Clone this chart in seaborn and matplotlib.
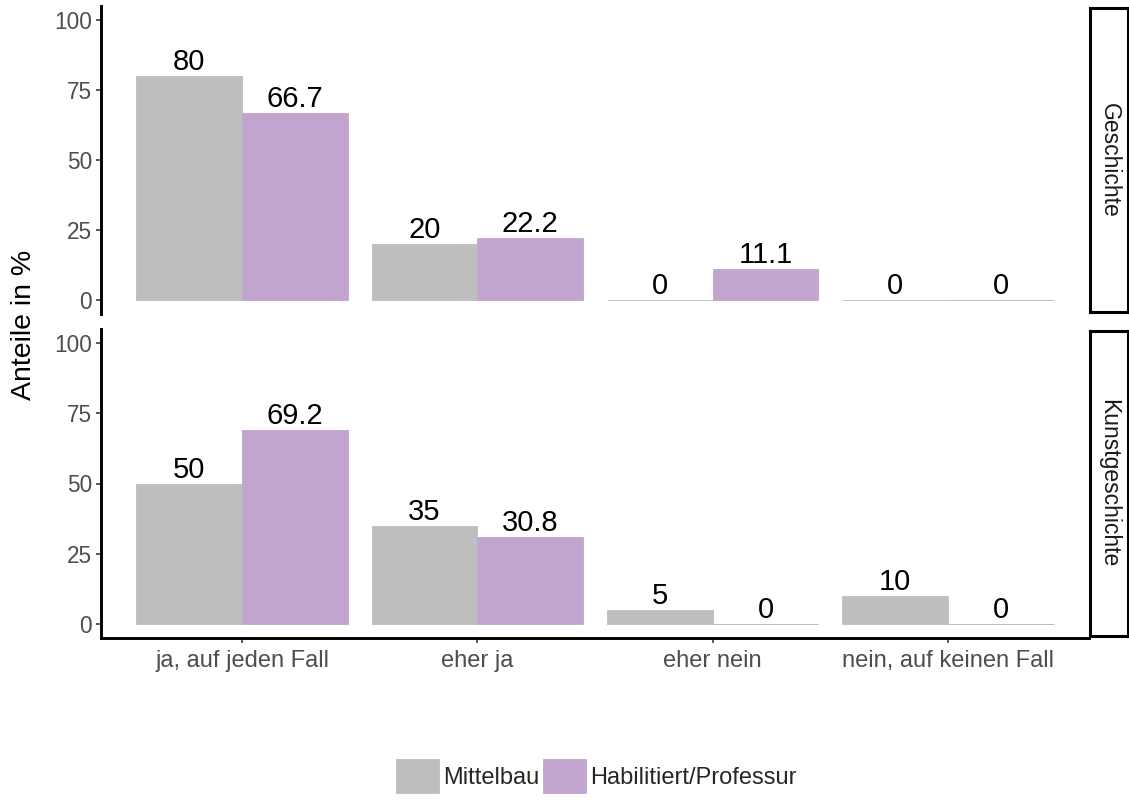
import numpy as np
import pandas as pd
import seaborn as sns
import matplotlib.pyplot as plt

# Daten
antworten = ["ja, auf jeden Fall", "eher ja", "eher nein", "nein, auf keinen Fall"]
gruppen = ["Mittelbau", "Habilitiert/Professur"]
faecher = ["Geschichte", "Kunstgeschichte"]

gesch_mittelbau = [80, 20, 0, 0]
gesch_habil = [66.7, 22.2, 11.1, 0]
kunst_mittelbau = [50, 35, 5, 10]
kunst_habil = [69.2, 30.8, 0, 0]

FARBEN = {"Mittelbau": "#BEBEBE", "Habilitiert/Professur": "#C2A5CF"}

rows = []
for fach, werte in [("Geschichte", [gesch_mittelbau, gesch_habil]),
                    ("Kunstgeschichte", [kunst_mittelbau, kunst_habil])]:
    for gruppe, vals in zip(gruppen, werte):
        for a, v in zip(antworten, vals):
            rows.append([fach, gruppe, a, v])
df = pd.DataFrame(rows, columns=["Fach", "Gruppe", "Antwort", "Anteil"])

sns.set_theme(style="white")
plt.rcParams['font.family'] = ['Liberation Sans', 'DejaVu Sans']

fig = plt.figure(figsize=(11.29, 8), dpi=100)

W, H = 1129, 800
panel_left = 101 / W
panel_w = 988 / W
panels = [
    (6, 314),    # Geschichte (px oben, unten)
    (329, 638),  # Kunstgeschichte
]

GREY30 = "#4D4D4D"
for i, (fach, (top, bot)) in enumerate(zip(faecher, panels)):
    ax = fig.add_axes([panel_left, (H - bot) / H, panel_w, (bot - top) / H])
    sub = df[df["Fach"] == fach]
    sns.barplot(data=sub, x="Antwort", y="Anteil", hue="Gruppe",
                order=antworten, hue_order=gruppen, palette=FARBEN,
                saturation=1, width=0.9, ax=ax, legend=(i == 0), errorbar=None)
    for p in ax.patches:
        p.set_edgecolor(p.get_facecolor())
        p.set_linewidth(0.6)
    for c in ax.containers:
        ax.bar_label(c, fmt=lambda v: f"{v:g}", padding=0, fontsize=21, color="black")
    ax.set_xlim(-0.6, 3.6)
    ax.set_ylim(-5, 105)
    ax.set_yticks([0, 25, 50, 75, 100])
    ax.set_xlabel("")
    ax.set_ylabel("")
    for s in ["top", "right"]:
        ax.spines[s].set_visible(False)
    ax.spines["left"].set_linewidth(2.1)
    ax.spines["left"].set_color("black")
    ax.tick_params(axis="y", left=True, length=3.6, width=1.3, color=GREY30,
                   labelsize=16.3, labelcolor=GREY30, pad=3)
    if i == 0:
        ax.spines["bottom"].set_visible(False)
        ax.tick_params(axis="x", bottom=False, labelbottom=False)
        handles, labels = ax.get_legend_handles_labels()
        ax.get_legend().remove()
    else:
        ax.spines["bottom"].set_linewidth(2.1)
        ax.spines["bottom"].set_color("black")
        ax.tick_params(axis="x", bottom=True, length=3.6, width=1.3, color=GREY30,
                       labelsize=17, labelcolor=GREY30, pad=5)
    ax.set_facecolor("white")

    # Facettenstreifen rechts
    sax = fig.add_axes([1090 / W, (H - bot + 2) / H, 38 / W, (bot - top - 4) / H])
    sax.set_xticks([])
    sax.set_yticks([])
    for s in sax.spines.values():
        s.set_linewidth(2.2)
        s.set_color("black")
    sax.set_facecolor("white")
    sax.text(0.5, 0.5, fach, rotation=-90, ha="center", va="center",
             fontsize=16.5, color="#1A1A1A", transform=sax.transAxes)

fig.text(24 / W, (H - 325) / H, "Anteile in %", rotation=90, ha="center",
         va="center", fontsize=20.5, color="black")

fig.legend(handles, labels, loc="center", bbox_to_anchor=(596 / W, 24 / H),
           ncol=2, frameon=False, fontsize=17, handlelength=1.85,
           handleheight=1.85, handletextpad=0.15, columnspacing=0.15,
           borderaxespad=0)

fig.savefig("out.png", dpi=100, facecolor="white")
